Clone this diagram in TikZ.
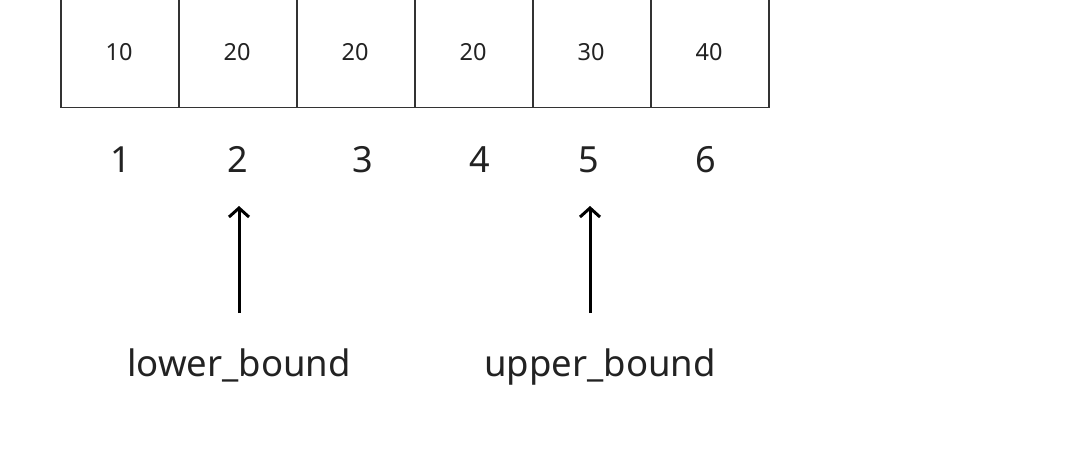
\documentclass[tikz,border=0pt]{standalone}
\usepackage{fontspec}
\setmainfont{Noto Sans}
\usetikzlibrary{arrows.meta}
\definecolor{ink}{HTML}{222222}
\definecolor{edge}{HTML}{333333}
\begin{document}
\begin{tikzpicture}[x=1pt,y=-1pt,
  cell/.style={draw=edge,line width=1.5pt,minimum width=118pt,minimum height=130pt,inner sep=0pt,anchor=south west},
  val/.style={text=ink,font=\fontsize{23.5}{28}\selectfont,anchor=base},
  idx/.style={text=ink,font=\fontsize{36}{40}\selectfont,anchor=base},
  lbl/.style={text=ink,font=\fontsize{36.5}{40}\selectfont,anchor=base},
  ptr/.style={draw=black,line width=3pt,-{Straight Barb[length=9pt,width=20pt,line width=3pt]}}]
\useasboundingbox (0,0) rectangle (1080,458);
\clip (0,0) rectangle (1080,458);
\foreach \i/\v in {1/10,2/20,3/20,4/20,5/30,6/40}{
  \node[cell] (c\i) at ({60+118*(\i-1)},108) {};
  \node[val] (v\i) at ({119+118*(\i-1)},60) {\v};
}
\node[idx] (i1) at (121,172) {1};
\node[idx] (i2) at (238,172) {2};
\node[idx] (i3) at (363,172) {3};
\node[idx] (i4) at (480,172) {4};
\node[idx] (i5) at (589,172) {5};
\node[idx] (i6) at (706,172) {6};
\coordinate (a1s) at (239,313);
\coordinate (a1e) at (239,206);
\coordinate (a2s) at (590,313);
\coordinate (a2e) at (590,206);
\draw[ptr] (a1s) -- (a1e);
\draw[ptr] (a2s) -- (a2e);
\node[lbl] (lb) at (239,376) {lower\_bound};
\node[lbl] (ub) at (600,376) {upper\_bound};
\end{tikzpicture}
\end{document}
